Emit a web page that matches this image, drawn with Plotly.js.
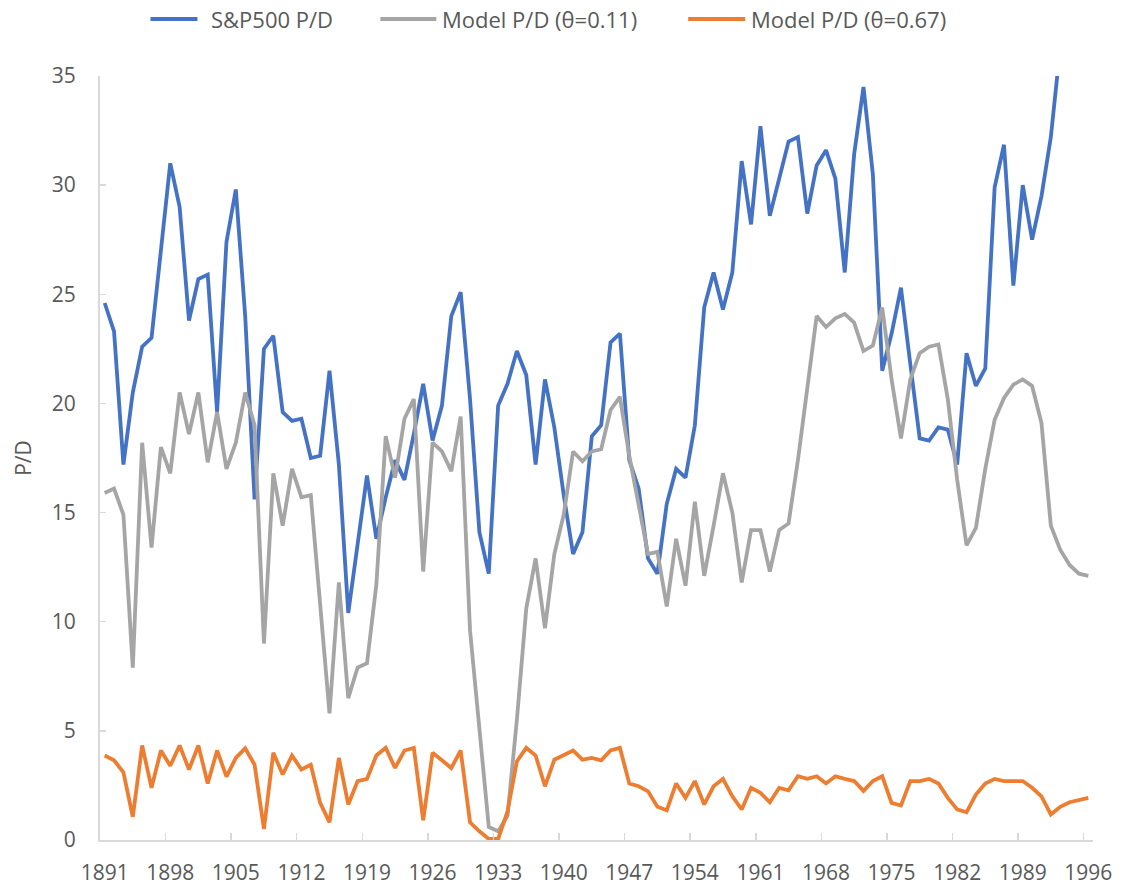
<!DOCTYPE html>
<html>
<head>
<meta charset="utf-8">
<script src="https://cdn.plot.ly/plotly-3.0.1.min.js"></script>
<style>
html,body{margin:0;padding:0;background:#ffffff;}
#chart{width:1122px;height:888px;}
</style>
</head>
<body>
<div id="chart"></div>
<script>
// ---- data ----
const years = [1891,1892,1893,1894,1895,1896,1897,1898,1899,1900,
  1901,1902,1903,1904,1905,1906,1907,1908,1909,1910,
  1911,1912,1913,1914,1915,1916,1917,1918,1919,1920,
  1921,1922,1923,1924,1925,1926,1927,1928,1929,1930,
  1931,1932,1933,1934,1935,1936,1937,1938,1939,1940,
  1941,1942,1943,1944,1945,1946,1947,1948,1949,1950,
  1951,1952,1953,1954,1955,1956,1957,1958,1959,1960,
  1961,1962,1963,1964,1965,1966,1967,1968,1969,1970,
  1971,1972,1973,1974,1975,1976,1977,1978,1979,1980,
  1981,1982,1983,1984,1985,1986,1987,1988,1989,1990,
  1991,1992,1993,1994,1995,1996];

const sp500PD = [24.6,23.3,17.2,20.5,22.6,23.0,27.0,31.0,29.0,23.8,
  25.7,25.9,19.6,27.4,29.8,24.0,15.6,22.5,23.1,19.6,
  19.2,19.3,17.5,17.6,21.5,17.2,10.4,13.6,16.7,13.8,
  15.7,17.4,16.5,18.6,20.9,18.3,19.9,24.0,25.1,20.2,
  14.1,12.2,19.9,20.9,22.4,21.3,17.2,21.1,18.9,15.8,
  13.1,14.1,18.5,19.0,22.8,23.2,17.4,16.1,12.9,12.2,
  15.4,17.0,16.6,19.0,24.4,26.0,24.3,26.0,31.1,28.2,
  32.7,28.6,30.3,32.0,32.2,28.7,30.9,31.6,30.3,26.0,
  31.4,34.5,30.5,21.5,23.2,25.3,21.8,18.4,18.3,18.9,
  18.8,17.2,22.3,20.8,21.6,29.9,31.85,25.4,30.0,27.5,
  29.5,32.2,36.3,null,null,null];

const modelPD011 = [15.9,16.1,14.9,7.9,18.2,13.4,18.0,16.8,20.5,18.6,
  20.5,17.3,19.6,17.0,18.2,20.5,19.0,9.0,16.8,14.4,
  17.0,15.7,15.8,10.7,5.8,11.8,6.5,7.9,8.1,11.7,
  18.5,16.6,19.3,20.2,12.3,18.2,17.8,16.9,19.4,9.6,
  5.3,0.6,0.4,1.1,5.5,10.6,12.9,9.7,13.1,14.9,
  17.8,17.35,17.8,17.9,19.7,20.3,17.6,15.4,13.1,13.2,
  10.7,13.8,11.65,15.5,12.1,14.4,16.8,15.0,11.8,14.2,
  14.2,12.3,14.2,14.5,17.4,20.7,24.0,23.5,23.9,24.1,
  23.7,22.4,22.65,24.4,21.1,18.4,21.1,22.3,22.6,22.7,
  20.2,16.5,13.5,14.3,17.0,19.25,20.25,20.86,21.1,20.8,
  19.1,14.4,13.3,12.6,12.2,12.1];

const modelPD067 = [3.87,3.65,3.1,1.06,4.33,2.39,4.1,3.4,4.33,3.23,
  4.33,2.59,4.1,2.9,3.76,4.2,3.45,0.5,4.0,3.0,
  3.87,3.23,3.45,1.7,0.81,3.76,1.63,2.7,2.8,3.87,
  4.22,3.3,4.1,4.22,0.9,4.0,3.65,3.3,4.1,0.81,
  0.4,0.05,0.05,1.3,3.6,4.22,3.87,2.46,3.68,3.87,
  4.1,3.68,3.76,3.65,4.1,4.22,2.59,2.46,2.23,1.52,
  1.36,2.59,1.93,2.7,1.63,2.46,2.8,2.0,1.4,2.39,
  2.16,1.73,2.39,2.28,2.92,2.8,2.92,2.59,2.92,2.8,
  2.7,2.25,2.7,2.92,1.7,1.58,2.7,2.7,2.8,2.59,
  1.93,1.4,1.27,2.08,2.59,2.8,2.7,2.7,2.7,2.39,
  2.0,1.17,1.52,1.73,1.82,1.93];

const seriesNames = ['S&P500 P/D', 'Model P/D (\u03b8=0.11)', 'Model P/D (\u03b8=0.67)'];
const seriesColors = ['#4472C4', '#A5A5A5', '#ED7D31'];
const xTickVals = [1891,1898,1905,1912,1919,1926,1933,1940,1947,1954,1961,1968,1975,1982,1989,1996];
const xTickText = ['1891','1898','1905','1912','1919','1926','1933','1940','1947','1954','1961','1968','1975','1982','1989','1996'];
const xTickBounds = [1890.5,1897.5,1904.5,1911.5,1918.5,1925.5,1932.5,1939.5,1946.5,1953.5,1960.5,1967.5,1974.5,1981.5,1988.5,1995.5];
const yTickVals = [0,5,10,15,20,25,30,35];

// ---- chart ----
const FONT = 'Open Sans, Liberation Sans, sans-serif';
const TXT = '#595959';
const AXC = '#d9d9d9';
const allY = [sp500PD, modelPD011, modelPD067];

const traces = allY.map((ys, i) => ({
  type: 'scatter', mode: 'lines', name: seriesNames[i],
  x: years, y: ys, connectgaps: false,
  line: {color: seriesColors[i], width: 3.8, shape: 'linear'},
  hoverinfo: 'x+y+name'
}));

// custom legend (long line samples like the original)
const L = 99.5, W = 993.5, T = 76, H = 764;
const px2x = p => (p - L) / W;
const py2y = p => (T + H - p) / H;
const legendLines = [[150, 197], [380, 436], [688, 745]];
const legendText = [209, 440, 749];
const legendY = 19;
const shapes = [];
const annotations = [];
legendLines.forEach((seg, i) => {
  shapes.push({type: 'line', xref: 'paper', yref: 'paper',
    x0: px2x(seg[0]), x1: px2x(seg[1]), y0: py2y(legendY), y1: py2y(legendY),
    line: {color: seriesColors[i], width: 3.8}});
  annotations.push({xref: 'paper', yref: 'paper', x: px2x(legendText[i]), y: py2y(legendY),
    xanchor: 'left', yanchor: 'middle', showarrow: false, text: seriesNames[i],
    font: {family: FONT, size: 22, color: TXT}});
});

const layout = {
  width: 1122, height: 888,
  paper_bgcolor: '#ffffff', plot_bgcolor: '#ffffff',
  margin: {l: L, r: 1122 - L - W, t: T, b: 888 - T - H, pad: 0},
  showlegend: false,
  font: {family: FONT, size: 21, color: TXT},
  xaxis: {
    range: [1890.5, 1996.5], type: 'linear', fixedrange: true,
    tickmode: 'array', tickvals: xTickVals, ticktext: xTickText,
    ticks: '', showgrid: false, zeroline: false,
    showline: true, linecolor: AXC, linewidth: 2,
    tickfont: {family: FONT, size: 21, color: TXT},
    ticklabelstandoff: 13
  },
  xaxis2: {
    range: [1890.5, 1996.5], overlaying: 'x', anchor: 'y', side: 'bottom',
    tickmode: 'array', tickvals: xTickBounds, showticklabels: false,
    ticks: 'inside', ticklen: 7, tickwidth: 1.5, tickcolor: AXC,
    showgrid: false, zeroline: false, showline: false, fixedrange: true
  },
  yaxis: {
    range: [0, 35], fixedrange: true,
    tickmode: 'array', tickvals: yTickVals,
    ticks: 'inside', ticklen: 6, tickwidth: 1.5, tickcolor: AXC,
    showgrid: false, zeroline: false,
    showline: true, linecolor: AXC, linewidth: 2,
    tickfont: {family: FONT, size: 21, color: TXT},
    ticklabelstandoff: 18,
    title: {text: 'P/D', font: {family: FONT, size: 21, color: TXT}, standoff: 14}
  },
  shapes: shapes,
  annotations: annotations
};

// empty trace on xaxis2 so the overlay axis (boundary tick marks) is drawn
traces.push({type: 'scatter', mode: 'lines', x: [], y: [], xaxis: 'x2', yaxis: 'y', showlegend: false, hoverinfo: 'skip'});

Plotly.newPlot('chart', traces, layout, {displayModeBar: false, staticPlot: true});
</script>
</body>
</html>
